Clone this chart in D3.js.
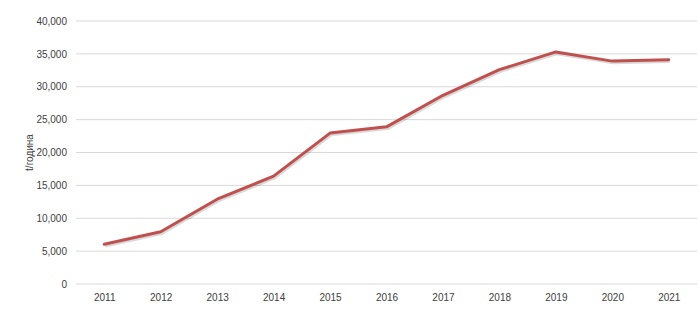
<!DOCTYPE html>
<html><head><meta charset="utf-8">
<script src="https://cdn.jsdelivr.net/npm/d3@7"></script>
<style>body{margin:0;background:#fff}svg{display:block}text{font-family:"Liberation Sans",Arial,sans-serif;fill:#404040}</style>
</head><body><svg id="c" width="700" height="311"></svg>
<script>
const years = ["2011","2012","2013","2014","2015","2016","2017","2018","2019","2020","2021"];
const values = [6050, 7950, 12900, 16400, 22950, 23900, 28700, 32600, 35300, 33900, 34100];
const yTicks = [0,5000,10000,15000,20000,25000,30000,35000,40000];
const yTitle = "t/година";

const svg = d3.select("#c");
const m = {l:76, r:3, t:21, b:27};
const W = 700, H = 311;
const x = d3.scalePoint().domain(years).range([m.l, W-m.r]).padding(0.5);
const y = d3.scaleLinear().domain([0,40000]).range([H-m.b, m.t]);

const fmt = d3.format(",");
svg.append("g").selectAll("line").data(yTicks).join("line")
  .attr("x1", m.l).attr("x2", W-m.r)
  .attr("y1", d=>y(d)).attr("y2", d=>y(d))
  .attr("stroke","#d9d9d9").attr("stroke-width",1);

const ya = svg.append("g").attr("transform",`translate(${m.l},0)`)
  .call(d3.axisLeft(y).tickValues(yTicks).tickFormat(fmt).tickSize(0).tickPadding(9));
ya.select(".domain").remove();
ya.selectAll("text").style("font-size","10px").style("fill","#404040").style("font-family","'Liberation Sans',Arial,sans-serif");

const xa = svg.append("g").attr("transform",`translate(0,${H-m.b})`)
  .call(d3.axisBottom(x).tickSize(0).tickPadding(10));
xa.select(".domain").remove();
xa.selectAll("text").style("font-size","10px").style("fill","#404040").style("font-family","'Liberation Sans',Arial,sans-serif");

svg.append("text").attr("transform",`translate(33,${(y(40000)+y(0))/2}) rotate(-90)`)
  .attr("text-anchor","middle").style("font-size","10px").text(yTitle);

const line = d3.line().x((d,i)=>x(years[i])).y(d=>y(d));
svg.append("path").datum(values).attr("d",line)
  .attr("fill","none").attr("stroke","rgba(0,0,0,0.15)").attr("stroke-width",3.5)
  .attr("transform","translate(1,1.5)").attr("stroke-linejoin","round");
svg.append("path").datum(values).attr("d",line)
  .attr("fill","none").attr("stroke","#c0504d").attr("stroke-width",3)
  .attr("stroke-linejoin","round").attr("stroke-linecap","round");
</script></body></html>
